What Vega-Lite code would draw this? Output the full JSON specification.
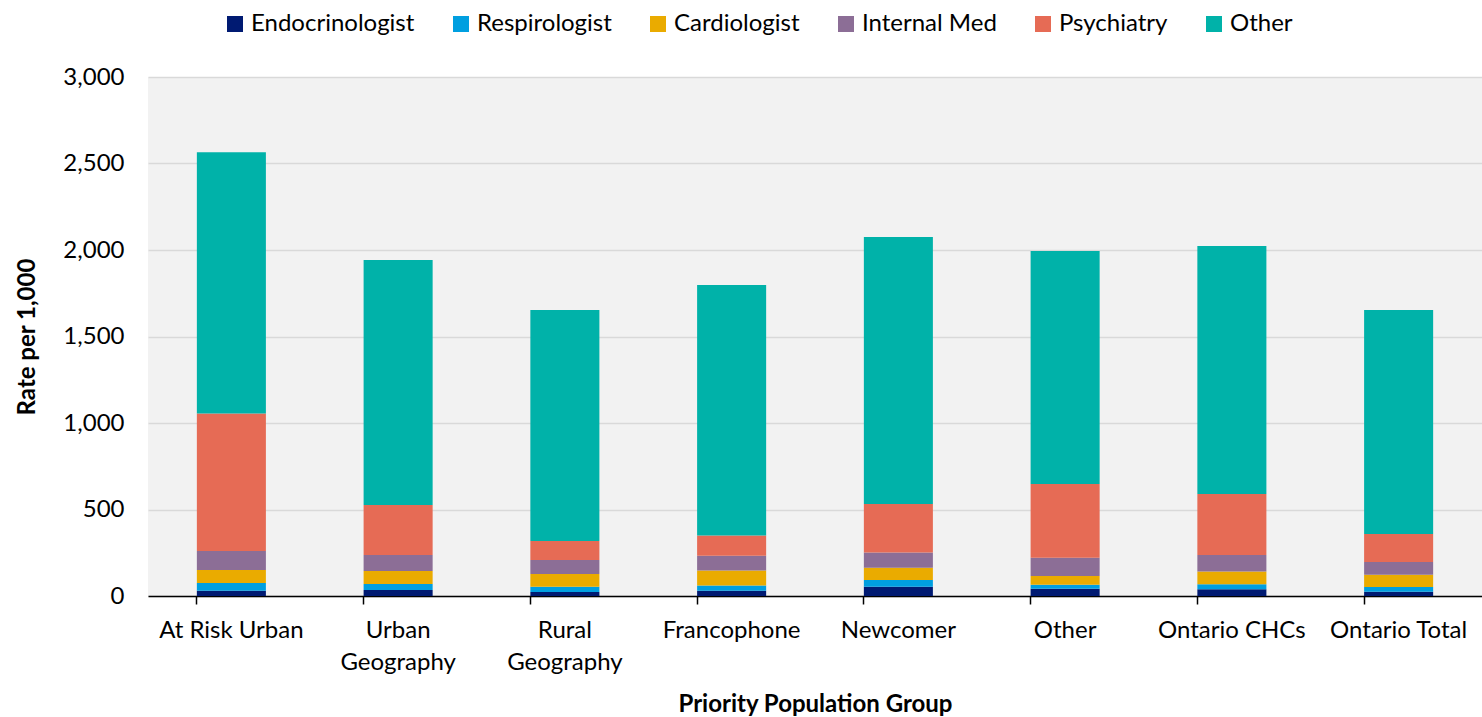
{
  "$schema": "https://vega.github.io/schema/vega-lite/v6.json",
  "width": 1334,
  "height": 519,
  "autosize": {"type": "none"},
  "padding": {"left": 148, "top": 77, "right": 0, "bottom": 121},
  "background": "white",
  "config": {
    "font": "Lato",
    "view": {"fill": "#f2f2f2", "stroke": null}
  },
  "data": {
    "values": [
      {"group": "At Risk Urban", "specialty": "Endocrinologist", "k": 1, "rate": 30},
      {"group": "At Risk Urban", "specialty": "Respirologist", "k": 2, "rate": 45},
      {"group": "At Risk Urban", "specialty": "Cardiologist", "k": 3, "rate": 75},
      {"group": "At Risk Urban", "specialty": "Internal Med", "k": 4, "rate": 110},
      {"group": "At Risk Urban", "specialty": "Psychiatry", "k": 5, "rate": 795},
      {"group": "At Risk Urban", "specialty": "Other", "k": 6, "rate": 1510},
      {"group": "Urban Geography", "specialty": "Endocrinologist", "k": 1, "rate": 35},
      {"group": "Urban Geography", "specialty": "Respirologist", "k": 2, "rate": 35},
      {"group": "Urban Geography", "specialty": "Cardiologist", "k": 3, "rate": 75},
      {"group": "Urban Geography", "specialty": "Internal Med", "k": 4, "rate": 92},
      {"group": "Urban Geography", "specialty": "Psychiatry", "k": 5, "rate": 289},
      {"group": "Urban Geography", "specialty": "Other", "k": 6, "rate": 1416},
      {"group": "Rural Geography", "specialty": "Endocrinologist", "k": 1, "rate": 23},
      {"group": "Rural Geography", "specialty": "Respirologist", "k": 2, "rate": 31},
      {"group": "Rural Geography", "specialty": "Cardiologist", "k": 3, "rate": 73},
      {"group": "Rural Geography", "specialty": "Internal Med", "k": 4, "rate": 81},
      {"group": "Rural Geography", "specialty": "Psychiatry", "k": 5, "rate": 110},
      {"group": "Rural Geography", "specialty": "Other", "k": 6, "rate": 1335},
      {"group": "Francophone", "specialty": "Endocrinologist", "k": 1, "rate": 31},
      {"group": "Francophone", "specialty": "Respirologist", "k": 2, "rate": 29},
      {"group": "Francophone", "specialty": "Cardiologist", "k": 3, "rate": 87},
      {"group": "Francophone", "specialty": "Internal Med", "k": 4, "rate": 85},
      {"group": "Francophone", "specialty": "Psychiatry", "k": 5, "rate": 118},
      {"group": "Francophone", "specialty": "Other", "k": 6, "rate": 1448},
      {"group": "Newcomer", "specialty": "Endocrinologist", "k": 1, "rate": 54},
      {"group": "Newcomer", "specialty": "Respirologist", "k": 2, "rate": 39},
      {"group": "Newcomer", "specialty": "Cardiologist", "k": 3, "rate": 71},
      {"group": "Newcomer", "specialty": "Internal Med", "k": 4, "rate": 87},
      {"group": "Newcomer", "specialty": "Psychiatry", "k": 5, "rate": 281},
      {"group": "Newcomer", "specialty": "Other", "k": 6, "rate": 1543},
      {"group": "Other", "specialty": "Endocrinologist", "k": 1, "rate": 42},
      {"group": "Other", "specialty": "Respirologist", "k": 2, "rate": 23},
      {"group": "Other", "specialty": "Cardiologist", "k": 3, "rate": 50},
      {"group": "Other", "specialty": "Internal Med", "k": 4, "rate": 106},
      {"group": "Other", "specialty": "Psychiatry", "k": 5, "rate": 426},
      {"group": "Other", "specialty": "Other", "k": 6, "rate": 1347},
      {"group": "Ontario CHCs", "specialty": "Endocrinologist", "k": 1, "rate": 39},
      {"group": "Ontario CHCs", "specialty": "Respirologist", "k": 2, "rate": 29},
      {"group": "Ontario CHCs", "specialty": "Cardiologist", "k": 3, "rate": 73},
      {"group": "Ontario CHCs", "specialty": "Internal Med", "k": 4, "rate": 96},
      {"group": "Ontario CHCs", "specialty": "Psychiatry", "k": 5, "rate": 353},
      {"group": "Ontario CHCs", "specialty": "Other", "k": 6, "rate": 1433},
      {"group": "Ontario Total", "specialty": "Endocrinologist", "k": 1, "rate": 25},
      {"group": "Ontario Total", "specialty": "Respirologist", "k": 2, "rate": 27},
      {"group": "Ontario Total", "specialty": "Cardiologist", "k": 3, "rate": 71},
      {"group": "Ontario Total", "specialty": "Internal Med", "k": 4, "rate": 74},
      {"group": "Ontario Total", "specialty": "Psychiatry", "k": 5, "rate": 161},
      {"group": "Ontario Total", "specialty": "Other", "k": 6, "rate": 1295}
    ]
  },
  "mark": {"type": "bar"},
  "encoding": {
    "x": {
      "field": "group",
      "type": "nominal",
      "sort": ["At Risk Urban", "Urban Geography", "Rural Geography", "Francophone", "Newcomer", "Other", "Ontario CHCs", "Ontario Total"],
      "scale": {"paddingInner": 0.586, "paddingOuter": 0.293},
      "axis": {
        "title": "Priority Population Group",
        "titleFontSize": 24,
        "titleFontWeight": "bold",
        "titleColor": "#000000",
        "titlePadding": 18,
        "labelFontSize": 24,
        "labelColor": "#000000",
        "labelAngle": 0,
        "labelLimit": 0,
        "labelPadding": 14,
        "labelLineHeight": 32,
        "labelExpr": "indexof(datum.label, 'Geography') > 0 ? split(datum.label, ' ') : datum.label",
        "domainColor": "#000000",
        "domainWidth": 1.5,
        "tickColor": "#000000",
        "tickWidth": 1.5,
        "tickSize": 8,
        "bandPosition": 0,
        "grid": false
      }
    },
    "y": {
      "field": "rate",
      "type": "quantitative",
      "stack": "zero",
      "scale": {"domain": [0, 3000], "nice": false},
      "axis": {
        "title": "Rate per 1,000",
        "titleFontSize": 24,
        "titleFontWeight": "bold",
        "titleColor": "#000000",
        "titlePadding": 23,
        "values": [0, 500, 1000, 1500, 2000, 2500, 3000],
        "format": ",.0f",
        "labelFontSize": 24,
        "labelColor": "#000000",
        "labelPadding": 24,
        "domain": false,
        "ticks": false,
        "grid": true,
        "gridColor": "#d9d9d9",
        "gridWidth": 1.5
      }
    },
    "color": {
      "field": "specialty",
      "type": "nominal",
      "scale": {
        "domain": ["Endocrinologist", "Respirologist", "Cardiologist", "Internal Med", "Psychiatry", "Other"],
        "range": ["#001a72", "#009fe0", "#eaab00", "#8c6e96", "#e66b55", "#00b2a9"]
      },
      "legend": {
        "title": null,
        "orient": "none",
        "direction": "horizontal",
        "legendX": 75,
        "legendY": -65,
        "symbolType": "square",
        "symbolSize": 256,
        "symbolStrokeWidth": 0,
        "labelFontSize": 24,
        "labelColor": "#000000",
        "labelOffset": 4,
        "columnPadding": 34,
        "labelLimit": 0
      }
    },
    "order": {"field": "k", "type": "quantitative"}
  }
}
